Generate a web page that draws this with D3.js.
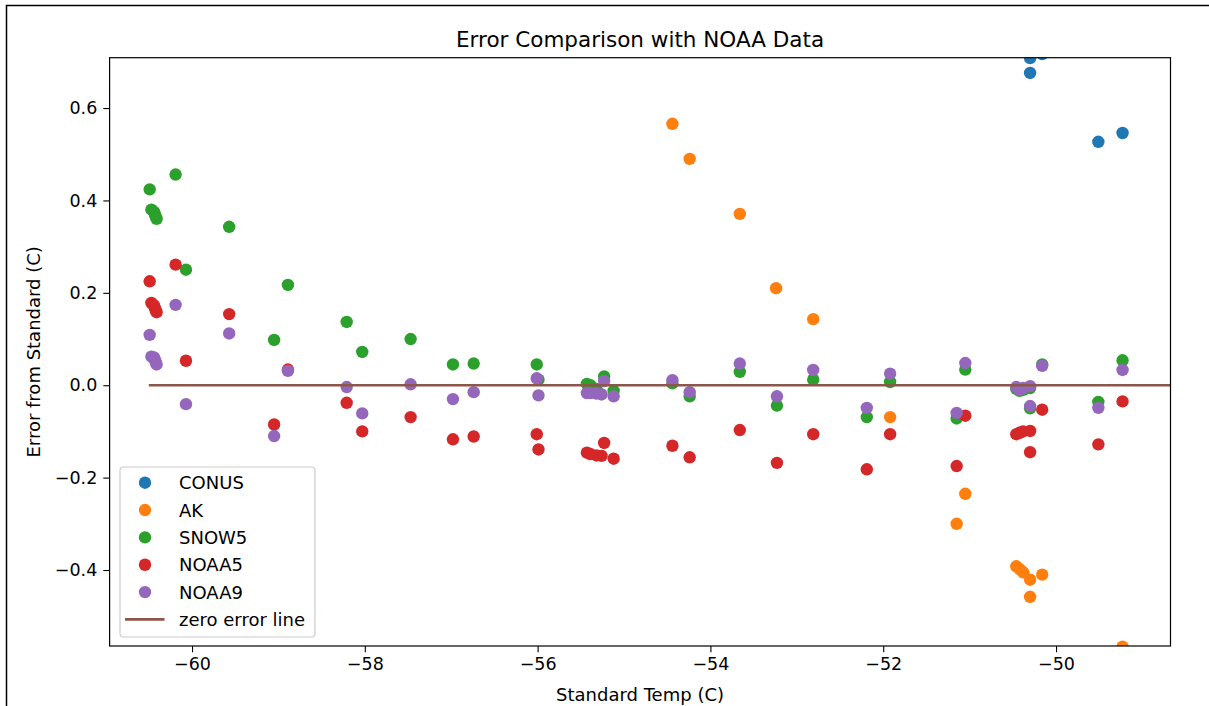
<!DOCTYPE html>
<html>
<head>
<meta charset="utf-8">
<script src="https://cdn.jsdelivr.net/npm/d3@7"></script>
<style>
  body { margin: 0; background: #fff; }
  svg { display: block; font-family: "DejaVu Sans", sans-serif; }
</style>
</head>
<body>
<script>
// series data (standard temp, error)
var conusX = [-50.30, -50.30, -50.16, -49.51, -49.23];
var conusY = [0.708, 0.676, 0.717, 0.527, 0.546];

var akX = [-54.44, -54.24, -53.66, -53.24, -52.81, -51.92, -51.15, -51.05,
           -50.46, -50.42, -50.38, -50.30, -50.30, -50.16, -49.23];
var akY = [0.566, 0.490, 0.371, 0.210, 0.143, -0.069, -0.300, -0.235,
           -0.392, -0.398, -0.405, -0.421, -0.458, -0.410, -0.566];

var snowX = [-60.49, -60.19, -60.47, -60.44, -60.43, -60.42, -60.41, -59.57, -60.07,
             -58.89, -58.21, -59.05, -58.03, -57.47, -56.98, -56.74, -56.01, -55.99,
             -55.43, -55.39, -55.32, -55.23, -55.12, -54.44, -54.24, -53.66, -53.23,
             -52.81, -52.19, -51.92, -51.15, -51.05, -50.46, -50.42, -50.38, -50.30,
             -50.30, -50.16, -49.51, -49.23];
var snowY = [0.424, 0.456, 0.380, 0.375, 0.370, 0.365, 0.360, 0.343, 0.250,
             0.217, 0.137, 0.098, 0.072, 0.100, 0.045, 0.047, 0.045, 0.012,
             0.003, 0.000, -0.008, 0.019, -0.012, 0.004, -0.024, 0.029, -0.044,
             0.012, -0.069, 0.007, -0.072, 0.034, -0.008, -0.012, -0.010, -0.006,
             -0.050, 0.045, -0.036, 0.054];

var noaa5X = [-60.49, -60.47, -60.44, -60.43, -60.42, -60.41, -60.19, -59.57, -60.07,
              -58.89, -58.21, -59.05, -58.03, -57.47, -56.98, -56.74, -56.01, -55.99,
              -55.43, -55.39, -55.32, -55.26, -55.23, -55.12, -54.44, -54.24, -53.66,
              -53.23, -52.81, -52.19, -51.92, -51.15, -51.05, -50.46, -50.42, -50.38,
              -50.30, -50.30, -50.16, -49.51, -49.23];
var noaa5Y = [0.225, 0.178, 0.173, 0.167, 0.162, 0.158, 0.261, 0.154, 0.053,
              0.034, -0.038, -0.085, -0.100, -0.069, -0.117, -0.111, -0.106, -0.139,
              -0.146, -0.149, -0.152, -0.153, -0.125, -0.159, -0.131, -0.156, -0.097,
              -0.168, -0.106, -0.182, -0.106, -0.175, -0.066, -0.106, -0.103, -0.100,
              -0.099, -0.145, -0.053, -0.128, -0.035];

var noaa9X = [-60.49, -60.47, -60.44, -60.43, -60.42, -60.41, -60.19, -59.57, -60.07,
              -58.89, -58.21, -59.05, -58.03, -57.47, -56.98, -56.74, -56.01, -55.99,
              -55.43, -55.39, -55.32, -55.26, -55.23, -55.12, -54.44, -54.24, -53.66,
              -53.23, -52.81, -52.19, -51.92, -51.15, -51.05, -50.46, -50.42, -50.38,
              -50.30, -50.30, -50.16, -49.51, -49.23];
var noaa9Y = [0.109, 0.062, 0.060, 0.055, 0.050, 0.045, 0.174, 0.112, -0.041,
              0.031, -0.004, -0.110, -0.061, 0.002, -0.030, -0.015, 0.015, -0.022,
              -0.017, -0.017, -0.018, -0.020, 0.009, -0.024, 0.011, -0.015, 0.047,
              -0.024, 0.033, -0.049, 0.025, -0.060, 0.048, -0.004, -0.010, -0.006,
              -0.002, -0.045, 0.042, -0.049, 0.033];

var zeroX = [-60.5, -48.6];
var zeroY = [0, 0];

var seriesNames = ["CONUS", "AK", "SNOW5", "NOAA5", "NOAA9"];
var seriesColors = ["#1f77b4", "#ff7f0e", "#2ca02c", "#d62728", "#9467bd"];
var lineName = "zero error line";
var lineColor = "#8c564b";

var xTicks = [-60, -58, -56, -54, -52, -50];
var yTicks = [-0.4, -0.2, 0.0, 0.2, 0.4, 0.6];

var width = 1209,
    height = 706;

// plot box (pixels)
var pLeft = 109.6, pTop = 57.7, pRight = 1170.5, pBottom = 646;

var svg = d3.select("body").append("svg")
    .attr("width", width)
    .attr("height", height);

// screenshot frame
svg.append("path")
    .attr("d", "M6.5,706 V5.5 H1209")
    .attr("fill", "none")
    .attr("stroke", "#000")
    .attr("stroke-width", 1.5);

var x = d3.scaleLinear().domain([-60.954, -48.675]).range([pLeft, pRight]);
var y = d3.scaleLinear().domain([-0.5645, 0.709]).range([pBottom, pTop]);

svg.append("clipPath").attr("id", "plotclip")
  .append("rect")
    .attr("x", pLeft).attr("y", pTop)
    .attr("width", pRight - pLeft).attr("height", pBottom - pTop);

var plot = svg.append("g").attr("clip-path", "url(#plotclip)");

var allSeries = [
  [conusX, conusY], [akX, akY], [snowX, snowY], [noaa5X, noaa5Y], [noaa9X, noaa9Y]
];

allSeries.forEach(function(s, i) {
    var pts = s[0].map(function(v, j) { return [v, s[1][j]]; });
    plot.selectAll(".s" + i)
        .data(pts)
        .enter().append("circle")
        .attr("class", "s" + i)
        .attr("cx", function(d) { return x(d[0]); })
        .attr("cy", function(d) { return y(d[1]); })
        .attr("r", 6.2)
        .attr("fill", seriesColors[i]);
});

var line = d3.line()
    .x(function(d) { return x(d[0]); })
    .y(function(d) { return y(d[1]); });

plot.append("path")
    .datum(zeroX.map(function(v, j) { return [v, zeroY[j]]; }))
    .attr("d", line)
    .attr("fill", "none")
    .attr("stroke", lineColor)
    .attr("stroke-width", 2.7);

// axes
var xAxis = d3.axisBottom(x)
    .tickValues(xTicks)
    .tickSize(6.3)
    .tickPadding(5)
    .tickFormat(function(d) { return d3.format("d")(d).replace("-", "\u2212"); });

var yAxis = d3.axisLeft(y)
    .tickValues(yTicks)
    .tickSize(6.3)
    .tickPadding(6)
    .tickFormat(function(d) { return d3.format(".1f")(d).replace("-", "\u2212"); });

var gx = svg.append("g")
    .attr("transform", "translate(0," + pBottom + ")")
    .call(xAxis);
var gy = svg.append("g")
    .attr("transform", "translate(" + pLeft + ",0)")
    .call(yAxis);

[gx, gy].forEach(function(g) {
    g.select(".domain").remove();
    g.selectAll(".tick line").attr("stroke", "#000").attr("stroke-width", 1.1);
    g.selectAll(".tick text")
        .attr("fill", "#000")
        .style("font-size", "17.5px")
        .style("font-family", "DejaVu Sans");
});

// frame
svg.append("rect")
    .attr("x", pLeft).attr("y", pTop)
    .attr("width", pRight - pLeft).attr("height", pBottom - pTop)
    .attr("fill", "none")
    .attr("stroke", "#000")
    .attr("stroke-width", 1.2);

svg.append("text")
    .attr("x", (pLeft + pRight) / 2)
    .attr("y", 46.5)
    .attr("text-anchor", "middle")
    .style("font-size", "21.5px")
    .text("Error Comparison with NOAA Data");

svg.append("text")
    .attr("x", (pLeft + pRight) / 2)
    .attr("y", 701)
    .attr("text-anchor", "middle")
    .style("font-size", "18px")
    .text("Standard Temp (C)");

svg.append("text")
    .attr("transform", "translate(40," + ((pTop + pBottom) / 2) + ") rotate(-90)")
    .attr("text-anchor", "middle")
    .style("font-size", "18px")
    .text("Error from Standard (C)");

// legend
var legend = svg.append("g");
legend.append("rect")
    .attr("x", 120).attr("y", 467)
    .attr("width", 195).attr("height", 170)
    .attr("rx", 3.5)
    .attr("fill", "#fff").attr("fill-opacity", 0.8)
    .attr("stroke", "#cccccc").attr("stroke-width", 1.2);

var legendItems = seriesNames.concat([lineName]);
legendItems.forEach(function(name, i) {
    var cy = 482.7 + i * 27.35;
    if (i < seriesNames.length) {
        legend.append("circle")
            .attr("cx", 145).attr("cy", cy).attr("r", 6.2)
            .attr("fill", seriesColors[i]);
    } else {
        legend.append("line")
            .attr("x1", 125).attr("x2", 164.5)
            .attr("y1", cy).attr("y2", cy)
            .attr("stroke", lineColor).attr("stroke-width", 2.7);
    }
    legend.append("text")
        .attr("x", 179).attr("y", cy + 6.5)
        .style("font-size", "18px")
        .text(name);
});
</script>
</body>
</html>
